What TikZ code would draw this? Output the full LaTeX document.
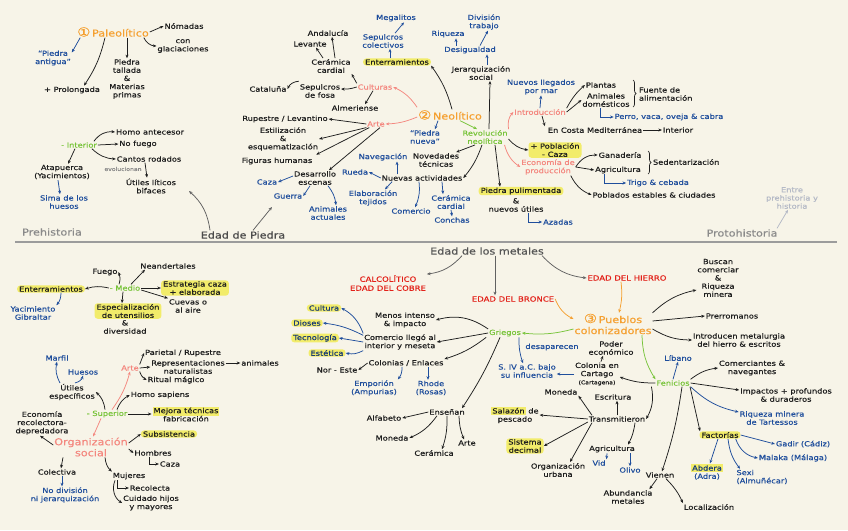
\documentclass[tikz,border=0pt]{standalone}
\usepackage{fontspec}
\usetikzlibrary{arrows.meta,decorations.pathreplacing}
\newfontfamily\hand[FakeStretch=1.18,FakeBold=0.5]{DejaVu Sans}
\definecolor{bgc}{HTML}{F7F4E8}
\definecolor{ink}{HTML}{1E1E1E}
\definecolor{blu}{HTML}{1F4E9C}
\definecolor{pnk}{HTML}{F4877F}
\definecolor{grn}{HTML}{78C43A}
\definecolor{org}{HTML}{F5A030}
\definecolor{red0}{HTML}{E32119}
\definecolor{hly}{HTML}{F2EC6A}
\definecolor{gry}{HTML}{8A8A8A}
\definecolor{lgy}{HTML}{B4B9C6}
\newcommand\ft{\hand\fontsize{7}{8.2}\selectfont}
\newcommand\fbig{\hand\fontsize{9.5}{11}\selectfont}
\newcommand\fcap{\hand\fontsize{7.2}{9}\selectfont}
\newcommand\fsm{\hand\fontsize{5.2}{6}\selectfont}
\newcommand\circnum[1]{{\fontsize{12.5}{12}\selectfont #1}}
\newcommand\hlt[1]{{\setlength\fboxsep{1pt}\colorbox{hly}{#1}}}
\tikzset{
 t/.style={font=\ft, align=center, inner sep=0.8pt, text=ink},
 bl/.style={t, text=blu},
 pk/.style={t, text=pnk},
 gr/.style={t, text=grn},
 og/.style={t, text=org, font=\fbig},
 rd/.style={t, text=red0, font=\fcap},
 hl/.style={t, fill=hly, rounded corners=3pt, inner xsep=2pt},
 hlb/.style={hl, text=blu!75!black},
 ar/.style={-{Stealth[length=3.6pt,width=3pt]}, line width=0.75pt, draw=ink},
 arb/.style={ar, draw=blu},
 arp/.style={ar, draw=pnk},
 arg/.style={ar, draw=grn},
 aro/.style={ar, draw=org},
 brc/.style={decorate, decoration={brace, amplitude=3pt}, line width=0.7pt, draw=ink}
}
\begin{document}
\begin{tikzpicture}[x=1pt,y=-1pt]
\fill[bgc] (0,0) rectangle (848,530);
\useasboundingbox (0,0) rectangle (848,530);

% ---------------- Paleolitico
\node[og] (pal) at (113,32) {\circnum{①}\,Paleolítico};
\node[t] (nom) at (184,26) {Nómadas};
\node[t] (glac) at (183,46) {con\\glaciaciones};
\node[t] (ptal) at (127,79) {Piedra\\tallada\\\&\\Materias\\primas};
\node[t] (prol) at (72,90) {+ Prolongada};
\node[bl] (pant) at (53,58) {“Piedra\\antigua”};
\draw[ar] (pal.east) -- (nom.west);
\draw[ar] ([xshift=-6pt]pal.south east) to[bend right=30] (glac.west);
\draw[ar] (ptal.north |- pal.south) -- (ptal.north);
\draw[ar] ([xshift=-8pt]pal.south) to[bend left=10] ([xshift=12pt]prol.north);
\draw[arb] ([xshift=4pt]pal.south west) -- ([yshift=-3pt]pant.north east);

% Interior
\node[gr] (int) at (79,145) {- Interior};
\node[t] (hant) at (150,132) {Homo antecesor};
\node[t] (nof) at (138,144) {No fuego};
\node[t] (cant) at (149,159) {Cantos rodados};
\node[t,text=gry,font=\fsm] (evol) at (123,169) {evolucionan};
\node[t] (util) at (151,186) {Útiles líticos\\bifaces};
\node[t] (atap) at (62,172) {Atapuerca\\(Yacimientos)};
\node[bl] (sima) at (64,202) {Sima de los\\huesos};
\draw[ar] ([xshift=-4pt]int.north east) to[bend left=30] (hant.west);
\draw[ar] (int.east) -- (nof.west);
\draw[ar] ([xshift=-6pt]int.south east) to[bend right=20] (cant.west);
\draw[ar] ([xshift=-4pt]cant.south) -- ([xshift=-4pt]util.north);
\draw[ar] ([xshift=-4pt]int.south) -- ([xshift=6pt]atap.north);
\draw[arb] ([xshift=-4pt]atap.south) -- ([xshift=-4pt]sima.north);

% band
\node[t,font=\fbig,text=gry] (preh) at (52,232) {Prehistoria};
\node[t,font=\fbig,text=ink!80] (edp) at (243,235) {Edad de Piedra};
\node[t,font=\fbig,text=gry] (proto) at (742,233) {Protohistoria};
\node[t,text=lgy] (entre) at (792,198) {Entre\\prehistoria y\\historia};
\draw[line width=2.2pt, gry!85] (15,242) -- (837,242);
\coordinate (pa1) at (189,191);
\coordinate (ne1) at (272,207);
\draw[ar,draw=ink!70] ([xshift=-33pt]edp.north) to[bend right=20] (pa1);
\draw[ar,draw=ink!70] ([xshift=10pt]edp.north) -- (ne1);
\draw[ar,draw=lgy] ([xshift=35pt]proto.north) -- ([xshift=-4pt]entre.south);

% ---------------- Neolitico
\node[og] (neo) at (450,115) {\circnum{②}\,Neolítico};
\node[hl] (ent) at (397,62) {Enterramientos};
\node[bl] (sepc) at (383,41) {Sepulcros\\colectivos};
\node[bl] (meg) at (396,18) {Megalitos};
\node[pk] (cult) at (375,87) {Culturas};
\node[t] (cerc) at (331,66) {Cerámica\\cardial};
\node[t] (and) at (328,33) {Andalucía};
\node[t] (lev) at (310,44) {Levante};
\node[t] (sepf) at (320,91) {Sepulcros\\de fosa};
\node[t] (cat) at (268,89) {Cataluña};
\node[t] (alm) at (355,108) {Almeriense};
\node[pk] (arte) at (376,124) {Arte};
\node[t] (rup) at (285,119) {Rupestre / Levantino};
\node[t] (esti) at (283,139) {Estilización\\\&\\esquematización};
\node[t] (fig) at (277,161) {Figuras humanas};
\node[t] (desa) at (315,178) {Desarrollo\\escenas};
\node[bl] (caza1) at (267,182) {Caza};
\node[bl] (guer) at (288,196) {Guerra};
\node[bl] (anim) at (328,213) {Animales\\actuales};
\draw[ar] ([xshift=2pt]neo.north) to[bend right=10] (ent.south east);
\draw[arb] ([xshift=-7pt]ent.north) -- ([xshift=7pt]sepc.south);
\draw[arb] ([xshift=12pt]sepc.north) -- ([xshift=8pt]meg.south);
\draw[arp] ([yshift=2pt]neo.north west) to[bend right=15] (cult.east);
\draw[ar] (cult.north west) -- (cerc.south east);
\draw[ar] ([xshift=4pt]cerc.north) -- ([xshift=4pt]and.south);
\draw[ar] ([xshift=-8pt]cerc.north) -- ([xshift=6pt]lev.south);
\draw[ar] (cult.west) to[bend left=10] ([yshift=2pt]sepf.east);
\draw[ar] ([yshift=2pt]sepf.north west) to[bend right=30] (cat.east);
\draw[ar] ([xshift=-2pt]cult.south) -- ([xshift=10pt]alm.north);
\draw[arp] ([yshift=-2pt]neo.west) to[bend left=10] (arte.east);
\draw[ar] (arte.west) -- (rup.east);
\draw[ar] (arte.south west) -- (esti.east);
\draw[ar] ([xshift=3pt]arte.south west) -- ([xshift=3pt,yshift=2pt]fig.north east);
\draw[ar] ([xshift=4pt]arte.south) -- ([xshift=14pt]desa.north);
\draw[arb] ([yshift=2pt]desa.west) -- (caza1.east);
\draw[arb] ([xshift=-5pt]desa.south) -- (guer.east);
\draw[arb] ([xshift=13pt]desa.south) to[bend left=15] ([xshift=8pt]anim.north);

\node[bl] (pnue) at (425,137) {“Piedra\\nueva”};
\draw[arb] ([xshift=-12pt]neo.south) -- ([xshift=-6pt]pnue.north east);
\node[gr] (revo) at (485,137) {Revolución\\neolítica};
\draw[arg] ([xshift=10pt]neo.south) -- ([xshift=-8pt]revo.north);
\node[t] (jer) at (481,73) {Jerarquización\\social};
\node[bl] (desi) at (470,50) {Desigualdad};
\node[bl] (riq) at (448,34) {Riqueza};
\node[bl] (div) at (484,22) {División\\trabajo};
\draw[ar] ([xshift=4pt]revo.north) -- ([xshift=9pt]jer.south);
\draw[arb] ([xshift=6pt]jer.north) -- ([xshift=17pt]desi.south);
\draw[arb] ([xshift=-14pt]desi.north) -- ([xshift=8pt]riq.south);
\draw[arb] ([xshift=10pt]desi.north) -- ([xshift=4pt]div.south);

\node[pk] (intro) at (540,112) {Introducción};
\draw[arp] (revo.north east) to[bend left=25] (intro.west);
\node[bl] (nllg) at (541,87) {Nuevos llegados\\por mar};
\draw[arb] (intro.north) -- (nllg.south);
\node[t] (plan) at (601,85) {Plantas};
\node[t] (adom) at (606,100) {Animales\\domésticos};
\draw[ar] (intro.north east) to[bend left=10] (plan.west);
\draw[ar] (intro.east) -- (adom.west);
\draw[brc] (633,80) -- (633,107);
\node[t,align=left,anchor=west] (fuen) at (638,94) {Fuente de\\alimentación};
\node[bl] (perro) at (669,117) {Perro, vaca, oveja \& cabra};
\draw[arb] ([xshift=-6pt]adom.south) |- (perro.west);
\node[t] (ecm) at (595,130) {En Costa Mediterránea};
\node[t] (inte) at (678,130) {Interior};
\draw[ar] (ecm.east) -- (inte.west);
\draw[ar] ([xshift=2pt]intro.south) -- ([xshift=-2pt]ecm.north west);

\node[hl] (pob) at (555,150) {+ Población\\- Caza};
\draw[ar] ([yshift=-2pt]revo.east) to[bend right=20] (pob.west);
\node[pk] (eco) at (548,167) {Economía de\\producción};
\draw[arp] ([xshift=-4pt]revo.south east) to[bend right=20] (eco.west);
\node[t] (gan) at (620,155) {Ganadería};
\node[t] (agr) at (618,170) {Agricultura};
\draw[ar] (eco.east) to[bend left=30] (gan.west);
\draw[ar] (eco.east) -- (agr.west);
\draw[brc] (648,151) -- (648,174);
\node[t,anchor=west] (sed) at (652,162) {Sedentarización};
\node[bl] (trig) at (658,183) {Trigo \& cebada};
\draw[arb] ([xshift=-14pt]agr.south) |- (trig.west);
\node[t] (pobl) at (654,195) {Poblados estables \& ciudades};
\draw[ar] ([xshift=-5pt]eco.south east) to[bend right=20] (pobl.west);
\node[hl] (ppul) at (521,191) {Piedra pulimentada};
\draw[ar] ([xshift=10pt]revo.south) -- ([xshift=-21pt]ppul.north);
\node[t] (nuti) at (516,205) {\&\\nuevos útiles};
\node[bl] (aza) at (558,222) {Azadas};
\draw[arb] ([xshift=12pt]nuti.south) |- (aza.west);
\node[t] (nov) at (436,160) {Novedades\\técnicas};
\draw[ar] ([xshift=-10pt]revo.south) -- ([xshift=-4pt]nov.north east);
\node[t] (nact) at (422,178) {Nuevas actividades};
\draw[ar] ([xshift=-3pt]revo.south) to[bend left=10] (nact.east);
\node[bl] (nav) at (383,157) {Navegación};
\node[bl] (rue) at (355,172) {Rueda};
\node[bl] (elab) at (373,198) {Elaboración\\tejidos};
\node[bl] (com1) at (411,211) {Comercio};
\node[bl] (cerb) at (451,202) {Cerámica\\cardial};
\node[bl] (conc) at (452,220) {Conchas};
\draw[arb] ([xshift=-25pt]nact.north) -- ([xshift=14pt]nav.south);
\draw[arb] (nact.west) -- (rue.east);
\draw[arb] ([xshift=-30pt]nact.south) -- ([xshift=12pt]elab.north);
\draw[arb] ([xshift=-3pt]nact.south) to[bend left=15] ([xshift=4pt]com1.north);
\draw[arb] ([xshift=20pt]nact.south) -- ([xshift=-8pt]cerb.north);
\draw[arb] (cerb.south) -- (conc.north);

% ---------------- Edad de los metales
\node[t,font=\fbig,text=ink!75] (edm) at (487,251) {Edad de los metales};
\node[rd] (calc) at (388,283) {CALCOLÍTICO\\EDAD DEL COBRE};
\node[rd] (bron) at (513,299) {EDAD DEL BRONCE};
\node[rd] (hier) at (627,278) {EDAD DEL HIERRO};
\draw[ar,draw=ink!70] ([xshift=-25pt]edm.south) to[bend left=20] (calc.north east);
\draw[ar,draw=ink!70] ([xshift=8pt]edm.south) -- ([xshift=8pt]edm.south |- bron.north);
\draw[ar,draw=ink!70] ([xshift=55pt]edm.south) to[bend right=20] (hier.west);
\node[og] (pue) at (613,324) {\circnum{③}\,Pueblos\\colonizadores};
\draw[aro] (bron.east) to[bend right=20] ([yshift=5pt]pue.west);
\draw[aro] ([xshift=-6pt]hier.south) to[bend left=10] ([xshift=6pt]pue.north);
\node[gr] (gri) at (505,333) {Griegos};
\draw[arg] ([yshift=-5pt]pue.west) to[bend left=10] (gri.east);
\node[t] (busc) at (718,278) {Buscan\\comerciar\\\&\\Riqueza\\minera};
\draw[ar] (pue.north east) to[bend left=15] ([yshift=8pt]busc.south west);
\node[t] (prer) at (732,316) {Prerromanos};
\draw[ar] ([yshift=3pt]pue.east) -- (prer.west);
\node[t] (intm) at (739,340) {Introducen metalurgia\\del hierro \& escritos};
\draw[ar] ([yshift=-5pt]pue.east) to[bend right=15] (intm.west);

% Griegos
\node[t] (meno) at (405,320) {Menos intenso\\\& impacto};
\node[t] (come) at (400,342) {Comercio llegó al\\interior y meseta};
\node[t] (colo) at (406,363) {Colonias / Enlaces};
\node[t] (nore) at (337,370) {Nor - Este};
\node[bl] (empo) at (374,388) {Emporión\\(Ampurias)};
\node[bl] (rhod) at (431,388) {Rhode\\(Rosas)};
\node[hlb] (cul) at (324,308) {Cultura};
\node[hlb] (dio) at (307,323) {Dioses};
\node[hlb] (tec) at (315,338) {Tecnología};
\node[hlb] (est) at (327,353) {Estética};
\draw[ar] ([yshift=4pt]gri.west) to[bend right=25] (meno.east);
\draw[ar] (gri.west) -- (come.east);
\draw[ar] ([xshift=-2pt]gri.south west) to[bend left=10] (colo.north east);
\draw[ar] (colo.west) -- (nore.east);
\draw[arb] ([xshift=-4pt]colo.south) to[bend left=20] (empo.north east);
\draw[arb] ([xshift=22pt]colo.south) -- ([xshift=-3pt]rhod.north);
\draw[arb] (come.north west) to[bend right=20] (cul.east);
\draw[arb] ([yshift=-2pt]come.north west) to[bend right=10] (dio.east);
\draw[arb] (come.west) -- (tec.east);
\draw[arb] (come.south west) to[bend left=20] (est.east);
\node[t] (ense) at (447,412) {Enseñan};
\draw[ar] ([xshift=-5pt]gri.south) to[bend left=5] ([xshift=15pt]ense.north);
\node[t] (alfa) at (384,418) {Alfabeto};
\node[t] (mone1) at (392,438) {Moneda};
\node[t] (cera) at (434,453) {Cerámica};
\node[t] (arte2) at (467,443) {Arte};
\draw[ar] (ense.west) -- (alfa.east);
\draw[ar] ([xshift=-10pt]ense.south) to[bend left=15] (mone1.east);
\draw[ar] (ense.south) to[bend left=10] ([xshift=8pt]cera.north);
\draw[ar] ([xshift=12pt]ense.south) to[bend right=10] ([xshift=-3pt]arte2.north);
\node[bl] (siv) at (527,371) {S. IV a.C. bajo\\su influencia};
\draw[arb] ([xshift=14pt]gri.south) to[bend right=10] ([xshift=-4pt]siv.north);
\node[bl] (desap) at (552,347) {desaparecen};

% Fenicios
\node[gr] (fen) at (673,383) {Fenicios};
\draw[arg] ([xshift=29pt]pue.south) to[bend right=15] (fen.north west);
\node[bl] (liba) at (678,358) {Líbano};
\draw[arb] (fen.north) -- (liba.south);
\node[t] (come2) at (752,368) {Comerciantes \&\\navegantes};
\draw[ar] (fen.north east) to[bend left=15] (come2.west);
\node[t] (impa) at (786,395) {Impactos + profundos\\\& duraderos};
\draw[ar] (fen.east) -- ([yshift=5pt]impa.west);
\node[bl] (riqt) at (772,418) {Riqueza minera\\de Tartessos};
\draw[arb] (fen.south east) to[bend right=15] ([yshift=6pt]riqt.west);
\node[hl] (fact) at (720,435) {Factorías};
\draw[ar] ([xshift=17pt]fen.south) -- ([xshift=-20pt]fact.north);
\node[bl] (gadi) at (803,444) {Gadir (Cádiz)};
\draw[arb] (fact.east) -- (gadi.west);
\node[bl] (mala) at (793,458) {Malaka (Málaga)};
\draw[arb] ([xshift=-5pt]fact.south east) to[bend right=30] (mala.west);
\node[bl] (abde) at (707,472) {\hlt{\textcolor{blu!75!black}{Abdera}}\\(Adra)};
\draw[arb] ([xshift=-2pt]fact.south) -- ([xshift=3pt]abde.north);
\node[bl,align=left] (sexi) at (762,477) {Sexi\\(Almuñécar)};
\draw[arb] ([xshift=8pt]fact.south) to[bend right=15] ([xshift=-22pt]sexi.north);
\node[t] (vien) at (660,475) {Vienen};
\draw[ar] ([xshift=9pt]fen.south) to[bend left=5] ([xshift=2pt]vien.north);
\node[t] (abun) at (628,497) {Abundancia\\metales};
\node[t] (loca) at (709,507) {Localización};
\draw[ar] ([xshift=-3pt]vien.south) -- ([xshift=-4pt]abun.north east);
\draw[ar] ([xshift=6pt]vien.south) to[bend left=10] ([xshift=-26pt]loca.north);
\node[t] (cart) at (597,374) {Colonia en\\Cartago\\{\fsm(Cartagena)}};
\draw[ar] (fen.west) to[bend left=10] ([yshift=-3pt]cart.east);
\node[t] (pode) at (611,348) {Poder\\económico};
\draw[ar] ([xshift=4pt]cart.north) -- ([xshift=-8pt]pode.south);
\draw[arb] (cart.west) -- ([yshift=-3pt]siv.east);
\node[t] (tran) at (617,419) {Transmitieron};
\draw[ar] ([xshift=-4pt]fen.south west) to[bend left=20] (tran.east);
\node[t] (mone2) at (561,392) {Moneda};
\node[t] (escr) at (613,397) {Escritura};
\node[t] (sala) at (515,415) {\hlt{Salazón} de\\pescado};
\node[hl] (sist) at (525,446) {Sistema\\decimal};
\node[t] (orgu) at (558,470) {Organización\\urbana};
\node[t] (agri2) at (612,449) {Agricultura};
\node[bl] (vid) at (599,463) {Vid};
\node[bl] (oliv) at (630,470) {Olivo};
\draw[ar] ([xshift=-25pt]tran.north) -- (mone2.south east);
\draw[ar] (tran.north) -- ([xshift=4pt]escr.south);
\draw[ar] (tran.west) -- (sala.east);
\draw[ar] ([yshift=-3pt]tran.west) -- (sist.east);
\draw[ar] ([xshift=-25pt]tran.south) -- ([xshift=12pt]orgu.north);
\draw[ar] ([xshift=18pt]tran.south) to[bend left=10] ([xshift=16pt]agri2.north);
\draw[arb] ([xshift=-5pt]agri2.south) -- (vid.north east);
\draw[arb] ([xshift=18pt]agri2.south) -- (oliv.north);

% ---------------- Paleolitico medio / superior
\node[gr] (med) at (125,288) {- Medio};
\node[t] (fueg) at (105,272) {Fuego};
\node[t] (nean) at (168,266) {Neandertales};
\node[hl] (ent2) at (51,289) {Enterramientos};
\node[bl] (yac) at (33,313) {Yacimiento\\Gibraltar};
\node[hl] (estr) at (195,288) {Estrategia caza\\+ elaborada};
\node[t] (cuev) at (188,306) {Cuevas o\\al aire};
\node[hl] (espe) at (128,311) {Especialización\\de utensilios};
\node[t] (dive) at (125,327) {\&\\diversidad};
\draw[ar] ([xshift=-6pt]med.north) to[bend right=20] (fueg.east);
\draw[ar] ([xshift=6pt]med.north) -- ([xshift=-23pt]nean.south);
\draw[ar] (med.west) to[bend right=15] (ent2.east);
\draw[arb] ([xshift=10pt]ent2.south) to[bend left=20] (yac.north east);
\draw[ar] (med.east) -- (estr.west);
\draw[ar] ([yshift=-2pt]med.east) -- (cuev.north west);
\draw[ar] ([xshift=-2pt]med.south) -- ([xshift=-6pt]espe.north);

\node[gr] (sup) at (107,414) {- Superior};
\node[pk] (arte3) at (130,368) {Arte};
\node[t] (pari) at (183,353) {Parietal / Rupestre};
\node[t] (repr) at (188,367) {Representaciones\\naturalistas};
\node[t] (anim2) at (260,363) {animales};
\node[t] (ritu) at (176,380) {Ritual mágico};
\node[t] (homs) at (160,395) {Homo sapiens};
\node[t] (mejo) at (186,414) {\hlt{Mejora técnicas}\\fabricación};
\node[t] (utie) at (72,392) {Útiles\\específicos};
\node[bl] (marf) at (57,358) {Marfil};
\node[bl] (hues) at (83,372) {Huesos};
\node[t] (econ) at (42,423) {Economía\\recolectora-\\depredadora};
\node[pk,font=\fbig] (orgs) at (91,447) {Organización\\social};
\node[hl] (subs) at (169,434) {Subsistencia};
\node[t] (homb) at (153,453) {Hombres};
\node[t] (caza2) at (170,464) {Caza};
\node[t] (colec) at (57,472) {Colectiva};
\node[bl] (nodi) at (65,495) {No división\\ni jerarquización};
\node[t] (muje) at (129,476) {Mujeres};
\node[t] (reco) at (150,488) {Recolecta};
\node[t] (cuid) at (151,503) {Cuidado hijos\\y mayores};
\draw[arp] ([xshift=5pt]sup.north) to[bend right=10] (arte3.south);
\draw[ar] ([xshift=10pt]sup.north) to[bend left=20] (homs.west);
\draw[ar] ([xshift=-2pt]sup.north) to[bend right=20] (utie.east);
\draw[ar] (sup.east) -- (mejo.west);
\draw[arp] ([xshift=-6pt]sup.south) -- ([xshift=2pt]orgs.north);
\draw[arb] ([xshift=-12pt]utie.north) to[bend left=20] (marf.south);
\draw[arb] ([xshift=3pt]utie.north) to[bend right=30] (hues.south);
\draw[ar] (arte3.north east) -- (pari.west);
\draw[ar] (arte3.east) -- (repr.west);
\draw[ar] ([yshift=4pt]repr.east) -- (anim2.west);
\draw[ar] (arte3.south east) to[bend right=20] (ritu.west);
\draw[ar] ([yshift=2pt]orgs.west) -- ([xshift=-2pt]econ.south);
\draw[ar] ([yshift=4pt]orgs.east) -- (subs.west);
\draw[ar] ([yshift=-2pt]orgs.east) -- (homb.west);
\draw[ar] ([xshift=-4pt]homb.south) |- (caza2.west);
\draw[ar] ([xshift=14pt]orgs.south) to[bend right=20] (muje.north west);
\draw[ar] ([xshift=-12pt]muje.south) |- (reco.west);
\draw[ar] ([xshift=-14pt]muje.south) to[bend right=40] (cuid.west);
\draw[ar] ([xshift=-28pt]orgs.south) -- ([xshift=4pt]colec.north);
\draw[arb] ([xshift=5pt]colec.south) -- ([xshift=-3pt]nodi.north);
\end{tikzpicture}
\end{document}
